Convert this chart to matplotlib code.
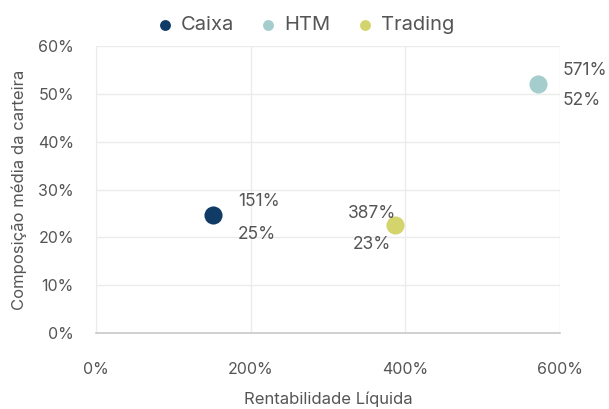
import matplotlib
matplotlib.use("Agg")
import matplotlib.pyplot as plt
from matplotlib.ticker import FuncFormatter

plt.rcParams['font.family'] = ['Inter', 'DejaVu Sans']

## data
series = ['Caixa', 'HTM', 'Trading']
rentab = [151, 571, 387]      # % rentabilidade liquida
compos = [24.6, 52, 22.6]     # % composicao media
colors = ['#0f3b66', '#a6cdcd', '#d3d46b']
x_ticks = [0, 200, 400, 600]
y_ticks = [0, 10, 20, 30, 40, 50, 60]

txt = '#555555'

fig = plt.figure(figsize=(6.09, 4.09), dpi=100)
ax = fig.add_axes([96/609, 1-333/409, (560-96)/609, (333-46)/409])

for name, x, y, c in zip(series, rentab, compos, colors):
    ax.scatter(x, y, s=170, color=c, label=name, zorder=3, linewidths=0)

# value labels: x above, y below (offsets in points)
offsets = {'Caixa': (18, 10, -14, 'left'),
           'HTM': (18, 10, -12, 'left'),
           'Trading': (-17, 8, -14, 'center')}
for name, x, y in zip(series, rentab, compos):
    dx, up, dn, ha = offsets[name]
    ax.annotate(f'{x:.0f}%', (x, y), xytext=(dx, up), textcoords='offset points',
                ha=ha, va='center', fontsize=12.5, color=txt)
    ax.annotate(f'{y:.0f}%', (x, y), xytext=(dx, dn), textcoords='offset points',
                ha=ha, va='center', fontsize=12.5, color=txt)

ax.set_xlim(0, 600)
ax.set_ylim(0, 60)
ax.set_xticks(x_ticks)
ax.set_yticks(y_ticks)
ax.xaxis.set_major_formatter(FuncFormatter(lambda v, p: f'{v:.0f}%'))
ax.yaxis.set_major_formatter(FuncFormatter(lambda v, p: f'{v:.0f}%'))
ax.tick_params(axis='x', length=0, pad=21, labelsize=11.5, labelcolor=txt)
ax.tick_params(axis='y', length=0, pad=16, labelsize=11.5, labelcolor=txt)
ax.grid(True, color='#ebebeb', linewidth=1)
ax.set_axisbelow(True)
for s in ['top', 'right']:
    ax.spines[s].set_visible(False)
ax.spines['left'].set_color('#ebebeb')
ax.spines['bottom'].set_color('#c8c8c8')
ax.spines['bottom'].set_linewidth(1.2)

ax.set_xlabel('Rentabilidade Líquida', fontsize=12, color=txt, labelpad=10)
ax.set_ylabel('Composição média da carteira', fontsize=12, color=txt, labelpad=8)

leg = fig.legend(loc='upper center', bbox_to_anchor=(0.5, 1.005), ncol=3, frameon=False,
                 fontsize=14.5, markerscale=0.6, handlelength=1.0, handletextpad=0.3,
                 columnspacing=1.2)
for t in leg.get_texts():
    t.set_color(txt)

fig.savefig('out.png', dpi=100)
